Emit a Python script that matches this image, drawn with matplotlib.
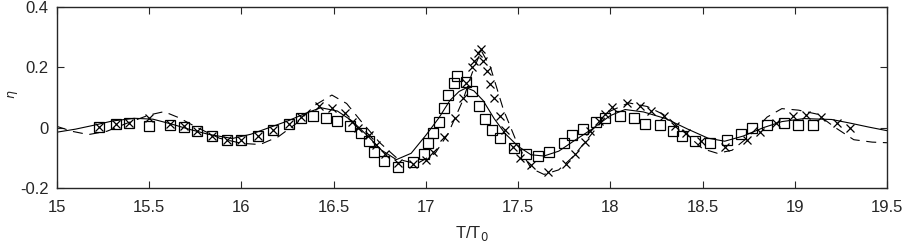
import numpy as np
import matplotlib
matplotlib.use('Agg')
import matplotlib.pyplot as plt

plt.rcParams['font.family'] = ['Liberation Sans', 'DejaVu Sans']

# solid model line
sol_t = [15.0, 15.1, 15.2, 15.3, 15.42, 15.52, 15.62, 15.72, 15.82, 15.95, 16.05, 16.15,
         16.25, 16.35, 16.43, 16.52, 16.6, 16.68, 16.76, 16.84, 16.92, 17.0, 17.07, 17.13,
         17.18, 17.22, 17.26, 17.31, 17.37, 17.43, 17.5, 17.57, 17.64, 17.72, 17.8, 17.9,
         18.0, 18.08, 18.18, 18.3, 18.42, 18.53, 18.62, 18.72, 18.83, 18.93, 19.05, 19.2,
         19.3, 19.4, 19.5]
sol_eta = [-0.015, -0.005, 0.008, 0.022, 0.031, 0.028, 0.012, -0.006, -0.022, -0.036, -0.022, 0.0,
           0.022, 0.048, 0.066, 0.055, 0.022, -0.025, -0.075, -0.106, -0.085, -0.025, 0.032, 0.09,
           0.12, 0.132, 0.122, 0.09, 0.03, -0.02, -0.062, -0.09, -0.094, -0.078, -0.045, -0.005,
           0.04, 0.06, 0.052, 0.03, -0.005, -0.035, -0.045, -0.028, 0.0, 0.02, 0.03, 0.027,
           0.015, 0.002, -0.01]

# dashed model line
dash_t = [15.0, 15.08, 15.17, 15.27, 15.38, 15.5, 15.58, 15.66, 15.76, 15.88, 16.0, 16.1,
          16.2, 16.3, 16.4, 16.49, 16.57, 16.65, 16.75, 16.85, 16.95, 17.05, 17.12, 17.2,
          17.25, 17.3, 17.35, 17.42, 17.5, 17.57, 17.64, 17.72, 17.8, 17.9, 18.0, 18.1,
          18.2, 18.3, 18.4, 18.5, 18.58, 18.66, 18.75, 18.85, 18.93, 19.02, 19.12, 19.22,
          19.32, 19.42, 19.5]
dash_eta = [0.004, -0.012, -0.023, -0.012, 0.015, 0.042, 0.053, 0.033, 0.0, -0.035, -0.052, -0.056,
            -0.03, 0.015, 0.075, 0.108, 0.08, 0.02, -0.05, -0.105, -0.12, -0.085, -0.02, 0.09,
            0.18, 0.255, 0.2, 0.06, -0.06, -0.135, -0.155, -0.14, -0.095, -0.02, 0.055, 0.082,
            0.07, 0.04, -0.015, -0.07, -0.085, -0.075, -0.03, 0.035, 0.063, 0.058, 0.045, 0.0,
            -0.04, -0.048, -0.05]

# squares
sq_t = [15.23, 15.32, 15.39, 15.50, 15.61, 15.69, 15.76, 15.84, 15.92, 16.00, 16.09, 16.17,
        16.26, 16.32, 16.39, 16.46, 16.52, 16.59, 16.65, 16.69, 16.72, 16.77, 16.85, 16.93,
        16.99, 17.01, 17.04, 17.07, 17.10, 17.12, 17.15, 17.17, 17.22, 17.25, 17.29, 17.32,
        17.36, 17.40, 17.48, 17.54, 17.61, 17.67, 17.75, 17.79, 17.85, 17.92, 17.97, 18.05,
        18.13, 18.19, 18.27, 18.34, 18.39, 18.46, 18.54, 18.63, 18.71, 18.77, 18.85, 18.94,
        19.02, 19.10]
sq_eta = [0.001, 0.012, 0.014, 0.004, 0.010, 0.002, -0.012, -0.029, -0.041, -0.042, -0.029, -0.007,
          0.012, 0.032, 0.037, 0.032, 0.021, 0.005, -0.018, -0.043, -0.080, -0.110, -0.132, -0.115,
          -0.086, -0.051, -0.019, 0.020, 0.065, 0.108, 0.149, 0.170, 0.150, 0.120, 0.073, 0.027,
          -0.007, -0.034, -0.067, -0.087, -0.093, -0.080, -0.052, -0.025, -0.003, 0.020, 0.032, 0.040,
          0.031, 0.013, 0.008, -0.010, -0.028, -0.044, -0.051, -0.041, -0.022, -0.001, 0.008, 0.016,
          0.010, 0.008]

# crosses
cr_t = [15.23, 15.32, 15.39, 15.50, 15.61, 15.69, 15.76, 15.84, 15.92, 16.00, 16.09, 16.17,
        16.26, 16.32, 16.42, 16.49, 16.56, 16.60, 16.63, 16.69, 16.73, 16.78, 16.85, 16.93,
        17.00, 17.04, 17.10, 17.16, 17.20, 17.22, 17.25, 17.26, 17.28, 17.30, 17.31, 17.33,
        17.35, 17.37, 17.40, 17.43, 17.47, 17.51, 17.57, 17.66, 17.76, 17.81, 17.86, 17.89,
        17.94, 17.97, 18.01, 18.09, 18.16, 18.22, 18.29, 18.35, 18.41, 18.49, 18.62, 18.74,
        18.81, 18.90, 18.99, 19.06, 19.14, 19.23, 19.30]
cr_eta = [0.001, 0.012, 0.014, 0.032, 0.012, 0.004, -0.010, -0.029, -0.041, -0.042, -0.029, -0.007,
          0.012, 0.035, 0.073, 0.065, 0.049, 0.018, -0.001, -0.023, -0.056, -0.086, -0.117, -0.119,
          -0.108, -0.082, -0.032, 0.032, 0.098, 0.148, 0.200, 0.222, 0.248, 0.259, 0.220, 0.188,
          0.143, 0.098, 0.040, -0.007, -0.063, -0.100, -0.123, -0.148, -0.120, -0.086, -0.047, -0.012,
          0.021, 0.045, 0.067, 0.082, 0.073, 0.056, 0.037, 0.006, -0.018, -0.045, -0.065, -0.040,
          -0.015, 0.016, 0.037, 0.043, 0.035, 0.016, -0.001]

x_ticks = [15, 15.5, 16, 16.5, 17, 17.5, 18, 18.5, 19, 19.5]
x_labels = ['15', '15.5', '16', '16.5', '17', '17.5', '18', '18.5', '19', '19.5']
y_ticks = [-0.2, 0, 0.2, 0.4]
y_labels = ['-0.2', '0', '0.2', '0.4']

fig = plt.figure(figsize=(9.06, 2.48), dpi=100)
ax = fig.add_axes([0.063, 0.242, 0.916, 0.730])

txt = '#262626'
ax.plot(sol_t, sol_eta, '-', color='k', lw=0.8)
ax.plot(dash_t, dash_eta, color='k', lw=0.8, dashes=(9, 6))
ax.plot(sq_t, sq_eta, 's', mfc='none', mec='k', ms=7, mew=0.9)
ax.plot(cr_t, cr_eta, 'x', color='k', ms=6, mew=0.9)

ax.set_xlim(15, 19.5)
ax.set_ylim(-0.2, 0.4)
ax.set_xticks(x_ticks)
ax.set_xticklabels(x_labels)
ax.set_yticks(y_ticks)
ax.set_yticklabels(y_labels)
ax.tick_params(axis='both', direction='in', length=5, width=0.8, top=True, right=True,
               labelsize=12, colors=txt)
ax.tick_params(axis='x', pad=9)
ax.tick_params(axis='y', pad=6)
for s in ax.spines.values():
    s.set_linewidth(1.0)
    s.set_color(txt)

ax.set_xlabel('T/T$_0$', fontsize=12, color=txt, labelpad=6)
ax.set_ylabel(r'$\eta$', fontsize=9, color=txt)
ax.yaxis.set_label_coords(-0.045, 0.52)

fig.savefig('out.png', dpi=100)
